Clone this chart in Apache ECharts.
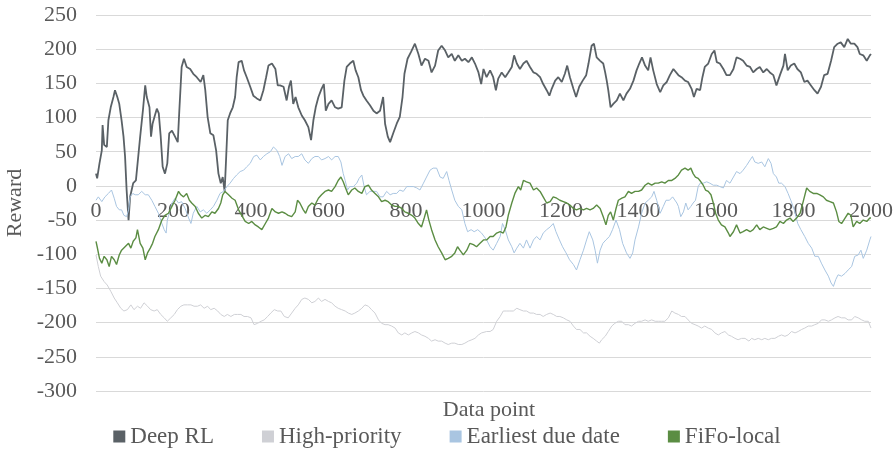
<!DOCTYPE html>
<html>
<head>
  <meta charset="utf-8">
  <title>Reward</title>
  <script src="https://cdn.jsdelivr.net/npm/echarts@6/dist/echarts.min.js"></script>
</head>
<body style="margin:0">
  <div id="main" style="width:894px;height:457px;"></div>
  <script type="text/javascript">
    // values, [data point, reward]
    var deepRL = [[0,18],[3,11],[9,33],[15,52],[17,89],[21,60],[28,57],[32,96],[38,115],[45,130],[49,140],[55,130],[60,120],[66,96],[71,72],[75,43],[79,-6],[84,-50],[88,-16],[92,-6],[96,4],[103,8],[109,43],[114,72],[121,110],[127,147],[131,130],[138,115],[142,72],[146,91],[151,101],[157,113],[162,106],[167,72],[172,28],[178,18],[184,33],[189,77],[196,81],[204,72],[211,64],[215,110],[221,174],[227,186],[234,174],[243,171],[251,164],[260,159],[270,152],[277,162],[282,140],[288,101],[295,77],[303,74],[310,52],[316,18],[322,4],[327,13],[332,-8],[336,43],[340,96],[346,106],[353,115],[359,130],[363,159],[368,181],[376,183],[382,169],[389,159],[398,145],[406,132],[415,128],[424,125],[432,140],[439,159],[445,176],[454,179],[463,171],[469,147],[475,147],[484,145],
      [492,125],[498,145],[503,154],[509,120],[515,130],[522,115],[531,103],[539,96],[548,86],[555,67],[561,96],[567,115],[574,130],[582,142],[588,149],[593,110],[600,120],[608,125],[617,115],[625,113],[634,115],[641,154],[647,174],[655,179],[664,183],[670,169],[677,159],[684,140],[690,132],[698,125],[707,118],[716,110],[724,106],[733,110],[741,130],[746,91],[753,72],[759,64],[767,77],[776,91],[784,101],[791,130],[796,164],[804,186],[813,196],[823,208],[832,193],[840,176],[849,186],[858,183],[866,166],[875,176],[883,198],[892,205],[901,198],[909,188],[918,193],[926,183],[935,191],[944,183],[952,186],[961,181],[970,188],[978,179],[987,166],[994,149],
      [1000,171],[1008,159],[1017,169],[1025,159],[1032,140],[1038,157],[1047,166],[1056,159],[1064,166],[1073,174],[1079,191],[1086,179],[1094,171],[1103,179],[1111,183],[1120,174],[1129,166],[1137,164],[1146,159],[1154,149],[1163,140],[1170,132],[1176,142],[1185,154],[1193,159],[1202,152],[1210,164],[1216,176],[1223,159],[1232,142],[1239,130],[1247,145],[1256,154],[1265,162],[1271,179],[1279,205],[1285,208],[1292,188],[1301,183],[1309,179],[1314,166],[1318,154],[1322,140],[1328,115],[1335,120],[1344,125],[1352,135],[1361,125],[1369,135],[1378,142],[1387,154],[1395,169],[1402,179],[1409,188],[1417,176],[1425,169],[1431,188],[1438,169],[1447,149],[1456,137],[1464,147],[1473,152],[1481,162],[1490,171],
      [1503,162],[1511,159],[1520,154],[1528,152],[1537,142],[1543,130],[1550,142],[1559,140],[1565,159],[1571,174],[1580,179],[1589,193],[1596,198],[1602,181],[1610,179],[1619,171],[1627,162],[1636,162],[1645,171],[1653,188],[1662,186],[1670,183],[1679,176],[1688,174],[1696,166],[1705,171],[1713,174],[1722,166],[1731,171],[1739,166],[1748,162],[1756,147],[1765,162],[1774,176],[1778,193],[1785,169],[1793,176],[1802,179],[1810,171],[1819,166],[1828,152],[1836,154],[1845,147],[1854,140],[1862,135],[1871,145],[1879,162],[1888,164],[1897,183],[1905,203],[1914,208],[1922,210],[1931,203],[1940,215],[1948,208],[1957,208],[1965,203],[1971,193],[1980,191],[1989,183],[1997,191],[2000,193]];

    var highPriority = [[0,-101],[6,-118],[12,-132],[21,-140],[29,-145],[38,-154],[47,-164],[55,-171],[64,-179],[72,-183],[81,-181],[90,-174],[98,-181],[107,-176],[115,-179],[124,-171],[133,-176],[141,-181],[150,-183],[158,-181],[167,-188],[176,-193],[184,-198],[193,-193],[202,-188],[210,-181],[219,-176],[227,-174],[236,-174],[245,-174],[253,-176],[262,-176],[270,-174],[279,-179],[288,-176],[296,-181],[305,-179],[314,-183],[322,-188],[331,-191],[339,-188],[348,-191],[357,-188],[365,-188],[374,-188],[382,-191],[391,-191],[400,-193],[408,-203],[417,-201],[426,-198],[434,-196],[443,-191],[451,-186],[460,-181],[469,-183],[477,-183],[486,-191],
      [496,-193],[505,-186],[514,-179],[522,-174],[531,-166],[539,-164],[548,-166],[557,-171],[565,-169],[574,-164],[582,-169],[591,-166],[600,-169],[608,-171],[617,-176],[625,-179],[634,-181],[643,-183],[651,-186],[660,-188],[668,-186],[677,-183],[686,-179],[694,-174],[703,-176],[711,-181],[720,-186],[729,-196],[737,-201],[746,-203],[754,-203],[763,-205],[772,-208],[780,-215],[789,-218],[797,-215],[806,-218],[815,-215],[823,-213],[832,-215],[840,-218],[849,-220],[858,-223],[866,-227],[875,-225],[883,-227],[892,-227],[901,-230],[909,-232],[918,-230],[926,-230],[935,-232],[944,-232],[952,-230],[961,-227],[970,-225],[978,-223],[987,-218],[995,-215],
      [1008,-213],[1017,-213],[1025,-210],[1034,-198],[1043,-191],[1051,-183],[1060,-183],[1068,-183],[1077,-183],[1086,-179],[1094,-181],[1103,-183],[1111,-183],[1120,-186],[1129,-186],[1137,-188],[1146,-188],[1154,-191],[1163,-188],[1172,-186],[1180,-188],[1189,-191],[1197,-191],[1206,-193],[1215,-196],[1223,-198],[1232,-205],[1240,-210],[1249,-210],[1258,-215],[1266,-215],[1275,-220],[1283,-223],[1292,-227],[1299,-230],[1305,-225],[1314,-220],[1322,-213],[1331,-205],[1339,-201],[1348,-198],[1357,-198],[1365,-203],[1374,-203],[1382,-205],[1391,-201],[1400,-198],[1408,-198],[1417,-196],[1425,-198],[1434,-196],[1443,-198],[1451,-198],[1460,-198],[1468,-198],[1477,-193],[1486,-183],[1494,-186],
      [1503,-188],[1511,-191],[1520,-191],[1528,-196],[1537,-201],[1546,-203],[1554,-205],[1563,-208],[1571,-205],[1580,-208],[1589,-210],[1597,-215],[1606,-218],[1614,-215],[1623,-213],[1632,-218],[1640,-220],[1649,-223],[1657,-225],[1666,-223],[1675,-223],[1685,-227],[1692,-223],[1700,-225],[1709,-223],[1718,-225],[1726,-223],[1735,-225],[1743,-223],[1752,-223],[1761,-220],[1769,-218],[1778,-220],[1786,-218],[1795,-213],[1804,-215],[1812,-213],[1821,-210],[1829,-208],[1838,-205],[1847,-205],[1855,-203],[1864,-201],[1872,-196],[1881,-196],[1890,-198],[1898,-196],[1907,-193],[1915,-191],[1924,-193],[1933,-193],[1941,-196],[1950,-196],[1958,-191],[1967,-193],[1976,-196],[1984,-198],[1993,-198],[2000,-208]];

    var earliestDue = [[0,-21],[6,-16],[15,-23],[23,-16],[32,-11],[40,-6],[47,-18],[53,-30],[60,-35],[66,-35],[72,-43],[79,-45],[84,-35],[88,-16],[95,-11],[101,-13],[109,-13],[118,-8],[127,-13],[135,-13],[144,-21],[152,-30],[161,-40],[170,-55],[176,-64],[181,-69],[184,-50],[189,-40],[196,-25],[204,-18],[213,-25],[221,-23],[230,-33],[239,-47],[245,-55],[251,-40],[260,-30],[269,-38],[277,-35],[286,-40],[295,-35],[303,-30],[312,-21],[320,-11],[329,-8],[338,-1],[346,4],[355,11],[363,16],[372,21],[381,23],[389,28],[398,33],[407,43],[415,45],[424,38],[432,43],[441,47],[450,50],[458,57],[467,52],[474,43],[480,30],[488,43],[497,47],
      [505,40],[514,43],[522,43],[531,47],[539,38],[548,33],[557,40],[565,43],[574,43],[582,38],[591,40],[600,43],[608,38],[617,43],[625,43],[632,35],[638,18],[643,8],[649,-6],[655,-1],[664,-1],[673,4],[679,11],[686,16],[692,-1],[698,-13],[707,-8],[716,-8],[724,-8],[733,-16],[741,-16],[750,-8],[759,-13],[767,-11],[776,-11],[784,-6],[793,-8],[802,-1],[810,-1],[819,-1],[828,-3],[836,-6],[845,4],[853,13],[862,23],[870,26],[879,26],[888,13],[896,11],[905,21],[911,8],[918,-6],[926,-21],[935,-30],[944,-35],[952,-55],[959,-67],[968,-64],[976,-67],[985,-64],[995,-69],
      [1000,-69],[1008,-79],[1017,-89],[1025,-94],[1034,-84],[1043,-74],[1049,-55],[1056,-64],[1064,-79],[1073,-89],[1079,-98],[1086,-91],[1094,-84],[1103,-91],[1111,-79],[1120,-91],[1129,-79],[1137,-74],[1146,-79],[1154,-69],[1163,-64],[1172,-60],[1180,-55],[1187,-67],[1196,-79],[1204,-89],[1213,-98],[1222,-108],[1232,-115],[1240,-123],[1249,-108],[1258,-94],[1266,-79],[1273,-67],[1282,-79],[1288,-94],[1294,-113],[1301,-94],[1308,-84],[1316,-79],[1325,-74],[1333,-64],[1342,-50],[1351,-64],[1359,-84],[1369,-98],[1378,-106],[1385,-98],[1391,-79],[1400,-60],[1408,-40],[1417,-25],[1425,-21],[1434,-16],[1440,-8],[1447,-21],[1456,-40],[1464,-30],[1471,-21],[1480,-21],[1488,-16],[1499,-25],
      [1503,-30],[1509,-45],[1516,-38],[1522,-25],[1528,-35],[1535,-30],[1541,-25],[1547,-21],[1554,-1],[1559,4],[1567,4],[1576,6],[1584,4],[1593,1],[1602,1],[1610,-1],[1619,-3],[1627,8],[1636,4],[1645,13],[1653,21],[1662,18],[1670,23],[1679,30],[1688,38],[1694,43],[1700,35],[1709,33],[1718,35],[1726,28],[1735,40],[1742,33],[1748,18],[1756,13],[1762,4],[1769,4],[1778,-1],[1786,-11],[1793,-21],[1802,-35],[1811,-55],[1819,-64],[1829,-74],[1838,-84],[1847,-91],[1855,-103],[1864,-103],[1872,-113],[1881,-123],[1890,-132],[1897,-142],[1903,-147],[1909,-137],[1915,-130],[1924,-132],[1933,-128],[1941,-123],[1950,-118],[1958,-103],[1967,-101],[1974,-94],[1980,-106],[1989,-94],[1997,-79],[2000,-74]];

    var fifoLocal = [[0,-81],[3,-89],[9,-106],[15,-113],[21,-103],[28,-108],[34,-118],[40,-103],[47,-108],[53,-115],[60,-101],[66,-94],[75,-89],[84,-84],[90,-91],[96,-81],[103,-76],[107,-64],[114,-84],[121,-91],[127,-108],[133,-98],[140,-91],[146,-84],[152,-74],[161,-64],[170,-50],[178,-43],[187,-40],[196,-30],[204,-21],[213,-8],[219,-13],[226,-16],[234,-11],[241,-21],[247,-25],[256,-30],[264,-40],[273,-47],[282,-43],[290,-45],[299,-38],[307,-40],[316,-33],[322,-25],[327,-13],[333,-8],[342,-13],[351,-18],[359,-21],[368,-35],[376,-43],[385,-52],[394,-55],[402,-52],[411,-57],[419,-60],[428,-64],[437,-55],[445,-47],[454,-33],[463,-38],[471,-40],[480,-38],[488,-40],
      [496,-43],[505,-45],[514,-38],[520,-21],[526,-25],[535,-35],[541,-40],[548,-30],[557,-25],[565,-28],[574,-18],[582,-13],[591,-8],[600,-6],[608,-8],[617,-1],[625,8],[632,13],[638,6],[644,-3],[651,-13],[660,-6],[668,-3],[677,-8],[686,-11],[694,-1],[703,1],[711,-6],[720,-11],[729,-16],[737,-23],[746,-21],[754,-23],[763,-28],[772,-30],[780,-30],[789,-33],[797,-38],[806,-40],[815,-43],[823,-47],[832,-55],[840,-60],[847,-47],[853,-35],[859,-50],[866,-64],[875,-79],[883,-89],[892,-98],[901,-108],[909,-106],[918,-103],[926,-98],[933,-89],[939,-94],[948,-101],[957,-94],[965,-84],[974,-86],[982,-89],[991,-84],[1000,-79],
      [1008,-79],[1017,-74],[1025,-74],[1034,-69],[1043,-67],[1051,-69],[1058,-60],[1064,-43],[1073,-25],[1081,-11],[1090,-1],[1096,-6],[1103,8],[1111,6],[1120,4],[1129,-6],[1137,-3],[1146,-8],[1154,-16],[1163,-25],[1172,-23],[1180,-16],[1189,-18],[1197,-21],[1206,-23],[1215,-25],[1223,-28],[1232,-33],[1240,-35],[1249,-33],[1258,-35],[1266,-33],[1275,-35],[1283,-33],[1292,-28],[1301,-33],[1309,-45],[1316,-57],[1322,-43],[1328,-38],[1335,-50],[1342,-33],[1348,-21],[1357,-18],[1365,-16],[1374,-8],[1382,-11],[1391,-8],[1400,-8],[1408,-6],[1417,1],[1425,4],[1434,1],[1443,4],[1451,4],[1460,6],[1468,4],[1477,8],[1486,8],[1494,11],
      [1503,16],[1511,23],[1520,26],[1528,23],[1535,26],[1541,18],[1547,13],[1554,11],[1561,6],[1567,1],[1573,-6],[1580,-8],[1587,-13],[1593,-25],[1599,-40],[1606,-50],[1614,-57],[1623,-60],[1632,-69],[1636,-74],[1645,-67],[1653,-57],[1662,-69],[1670,-67],[1679,-64],[1688,-67],[1696,-64],[1705,-57],[1713,-64],[1722,-60],[1731,-62],[1739,-64],[1748,-62],[1756,-60],[1765,-52],[1774,-55],[1782,-50],[1791,-47],[1799,-52],[1808,-47],[1817,-40],[1825,-23],[1834,-3],[1842,-8],[1851,-11],[1860,-11],[1868,-13],[1877,-16],[1885,-21],[1894,-23],[1903,-25],[1911,-38],[1917,-52],[1924,-55],[1933,-47],[1941,-40],[1948,-43],[1954,-60],[1963,-52],[1971,-55],[1980,-50],[1989,-52],[1997,-47],[2000,-47]];

    var seriesNames = ['Deep RL', 'High-priority', 'Earliest due date', 'FiFo-local'];
    var seriesData = [deepRL, highPriority, earliestDue, fifoLocal];
    var colors = ['#5a6166', '#cfd0d5', '#a9c5e1', '#5b8d43'];
    var widths = [1.8, 1, 1, 1.4];

    var font = 'Liberation Serif, Times New Roman, serif';
    var textColor = '#595959';

    // plot area, and where the zero line sits inside it
    var gridTop = 15, gridBottom = 66, plotHeight = 457 - gridTop - gridBottom;
    var yMin = -300, yMax = 250;
    var zeroOffset = -plotHeight * (0 - yMin) / (yMax - yMin);

    var myChart = echarts.init(document.getElementById('main'));

    var option = {
      animation: false,
      color: colors,
      title: {
        text: 'Data point',
        left: 484,
        top: 394,
        textAlign: 'center',
        textStyle: { fontFamily: font, fontSize: 22, fontWeight: 'normal', color: textColor }
      },
      legend: {
        bottom: 4,
        left: 'center',
        icon: 'rect',
        itemWidth: 12,
        itemHeight: 12,
        itemGap: 48,
        textStyle: { fontFamily: font, fontSize: 23, color: textColor },
        data: seriesNames
      },
      grid: { left: 96, right: 23, top: gridTop, bottom: gridBottom, outerBoundsMode: 'none' },
      xAxis: {
        type: 'value',
        min: 0,
        max: 2000,
        interval: 200,
        offset: zeroOffset,
        axisLine: { show: false, onZero: false },
        axisTick: { show: false },
        splitLine: { show: false },
        axisLabel: {
          fontFamily: font, fontSize: 22, color: textColor, margin: 14,
          alignMinLabel: 'center', alignMaxLabel: 'center',
          formatter: function (v) { return String(v); }
        }
      },
      yAxis: {
        type: 'value',
        min: yMin,
        max: yMax,
        interval: 50,
        name: 'Reward',
        nameLocation: 'middle',
        nameGap: 68,
        nameTextStyle: { fontFamily: font, fontSize: 22, color: textColor },
        axisLine: { show: false },
        axisTick: { show: false },
        splitLine: { lineStyle: { color: '#d9d9d9' } },
        axisLabel: {
          fontFamily: font, fontSize: 22, color: textColor, margin: 19,
          formatter: function (v) { return String(v); }
        }
      },
      series: seriesNames.map(function (name, i) {
        return {
          name: name,
          type: 'line',
          data: seriesData[i],
          showSymbol: false,
          symbol: 'none',
          lineStyle: { width: widths[i], color: colors[i] },
          itemStyle: { color: colors[i] }
        };
      })
    };

    myChart.setOption(option);
  </script>
</body>
</html>
